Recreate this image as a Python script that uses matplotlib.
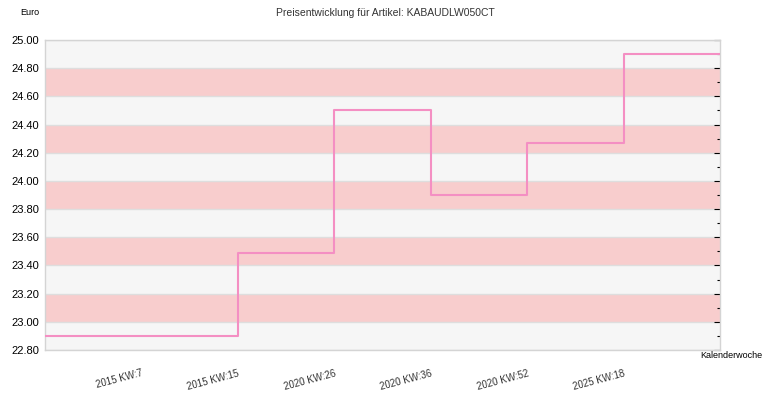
import matplotlib; matplotlib.use('Agg')
import numpy as np
import matplotlib.pyplot as plt
from matplotlib.ticker import MultipleLocator, FormatStrFormatter

# price history, one value per calendar-week label (plus start and end point)
weeks = ["", "2015 KW:7", "2015 KW:15", "2020 KW:26", "2020 KW:36",
         "2020 KW:52", "2025 KW:18", ""]
prices = [22.90, 22.90, 23.49, 24.50, 23.90, 24.27, 24.90, 24.90]

plt.rcParams['font.family'] = ['Liberation Sans', 'DejaVu Sans']

fig = plt.figure(figsize=(7.7, 4.0), dpi=100)
ax = fig.add_axes([45 / 770, 50 / 400, 675 / 770, 310 / 400])

ax.set_facecolor('#f6f6f6')
# alternating pink bands
for lo in np.arange(23.0, 24.8, 0.4):
    ax.axhspan(lo, lo + 0.2, color='#f8cdcd', lw=0, zorder=0)
for y in np.arange(22.8, 25.01, 0.2):
    ax.axhline(y, color='#dedede', lw=1, zorder=1)

x = np.arange(len(prices))
ax.step(x, prices, where='post', color='#f48fc3', lw=1.5, zorder=3)

ax.set_xlim(0, len(prices) - 1)
ax.set_ylim(22.8, 25.0)
ax.yaxis.set_major_locator(MultipleLocator(0.2))
ax.yaxis.set_minor_locator(MultipleLocator(0.1))
ax.yaxis.set_major_formatter(FormatStrFormatter('%.2f'))
ax.tick_params(axis='y', which='both', left=False, right=True, labelleft=True,
               direction='in', colors='black', labelsize=8, pad=4)
ax.tick_params(axis='y', which='major', length=4, width=0.8)
ax.tick_params(axis='y', which='minor', length=2.5, width=0.8)

ax.set_xticks(x)
ax.set_xticklabels(weeks, rotation=15, ha='right', rotation_mode='anchor',
                   fontsize=7, color='#333333')
ax.tick_params(axis='x', length=0, pad=13)

for s in ax.spines.values():
    s.set_color('#d4d4d4')
    s.set_linewidth(1)

fig.text(0.5, 0.968, 'Preisentwicklung für Artikel: KABAUDLW050CT', ha='center',
         va='center', fontsize=7.5, color='#333333')
fig.text(20 / 770, 0.968, 'Euro', ha='left', va='center', fontsize=6.5)
fig.text(700 / 770, 1 - 356 / 400, 'Kalenderwoche', ha='left', va='center',
         fontsize=6.5)

plt.savefig('out.png', dpi=100)
